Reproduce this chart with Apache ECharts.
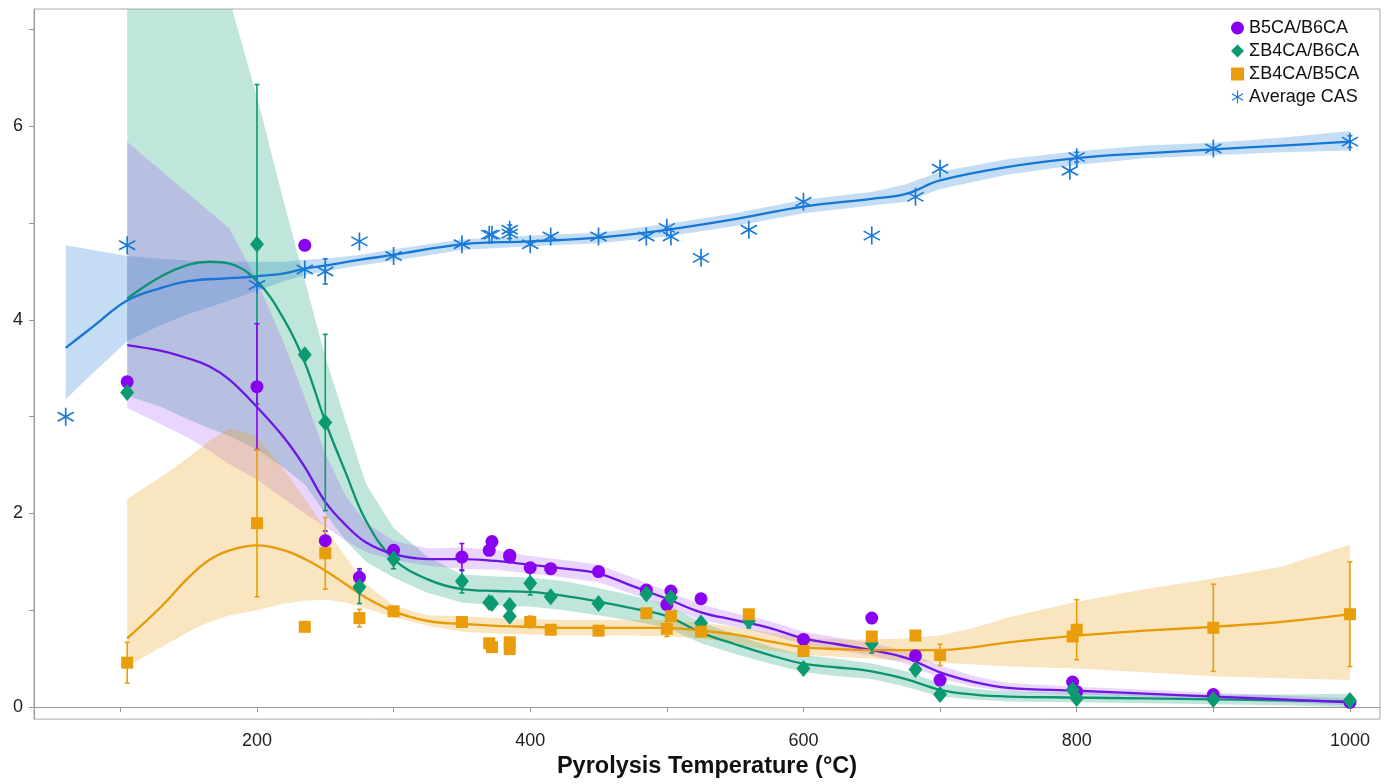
<!DOCTYPE html>
<html><head><meta charset="utf-8">
<script src="https://cdn.jsdelivr.net/npm/echarts@6/dist/echarts.min.js"></script>
<style>html,body{margin:0;padding:0;background:#fff}#c{width:1390px;height:784px}</style>
</head><body><div id="c"></div>
<script>
// ---- measured points (ratio series share temperatures) ----
const ratioT = [105,200,235,250,275,300,350,370,372,385,385,400,415,450,485,500,503,525,560,600,650,682,700,797,800,900,1000];
const b5b6 = [3.36,3.31,4.77,1.72,1.34,1.62,1.55,1.62,1.71,1.57,1.55,1.44,1.43,1.40,1.21,1.06,1.20,1.12,null,0.70,0.92,0.53,0.28,0.26,0.16,0.13,0.05];
const b4b6 = [3.25,4.78,3.64,2.94,1.24,1.53,1.30,1.08,1.07,1.05,0.94,1.28,1.14,1.07,1.17,null,1.13,0.87,0.89,0.40,0.66,0.39,0.13,0.18,0.09,0.08,0.07];
const b4b5 = [0.46,1.90,0.83,1.59,0.92,0.99,0.88,0.66,0.62,0.67,0.60,0.88,0.80,0.79,0.97,0.81,0.94,0.78,0.96,0.58,0.73,0.74,0.54,0.73,0.80,0.82,0.96];
const b5b6Err = [null,0.65,null,0.10,0.09,null,0.14,null,null,null,null,0.05,0.05,null,null,null,null,null,null,null,null,null,null,null,null,null,null];
const b4b6Err = [null,1.65,null,0.91,0.17,0.10,0.12,null,null,null,null,0.12,null,null,null,null,null,null,0.07,null,0.10,null,null,null,null,null,null];
const b4b5Err = [0.21,0.76,null,0.37,0.09,null,0.03,null,null,null,null,0.06,null,null,null,0.08,null,null,null,null,null,null,0.11,null,0.31,0.45,0.54];

const casT = [60,105,200,235,250,275,300,350,370,372,385,385,400,415,450,485,500,503,525,560,600,650,682,700,795,800,900,1000];
const casV = [3.00,4.77,4.36,4.52,4.50,4.81,4.66,4.78,4.88,4.88,4.93,4.89,4.78,4.86,4.86,4.86,4.95,4.86,4.64,4.93,5.22,4.87,5.27,5.56,5.54,5.68,5.77,5.84];
const casErr = [null,null,null,null,0.13,null,null,null,null,null,0.05,0.05,null,null,null,null,null,null,null,null,null,null,null,null,null,0.05,null,0.06];

// ---- fitted curves and confidence bands ----
const fitT = [105,130,150,165,180,200,220,235,250,265,280,300,325,350,375,400,425,450,475,500,525,550,575,600,625,650,675,700,725,750,800,850,900,950,1000];
const b5b6Fit = [3.74,3.68,3.60,3.52,3.38,3.10,2.78,2.48,2.12,1.88,1.70,1.58,1.53,1.53,1.51,1.47,1.43,1.38,1.25,1.12,0.98,0.90,0.82,0.71,0.65,0.59,0.51,0.36,0.26,0.20,0.17,0.14,0.11,0.08,0.05];
const b5b6Lo  = [3.09,2.92,2.78,2.65,2.51,2.35,2.15,2.00,1.86,1.72,1.60,1.52,1.46,1.43,1.42,1.38,1.34,1.29,1.17,1.04,0.90,0.83,0.75,0.65,0.59,0.53,0.45,0.30,0.21,0.16,0.13,0.11,0.08,0.05,0.02];
const b5b6Hi  = [5.84,5.54,5.30,5.12,4.94,4.40,3.75,3.20,2.62,2.18,1.90,1.72,1.64,1.65,1.62,1.56,1.52,1.47,1.34,1.20,1.06,0.97,0.89,0.78,0.72,0.66,0.58,0.43,0.32,0.25,0.21,0.18,0.15,0.12,0.09];
const b4b6Fit = [4.22,4.45,4.57,4.60,4.58,4.40,4.00,3.56,2.95,2.42,1.92,1.53,1.32,1.22,1.20,1.19,1.15,1.09,1.02,0.94,0.77,0.65,0.54,0.45,0.41,0.37,0.29,0.18,0.13,0.11,0.10,0.09,0.08,0.07,0.06];
const b4b6Lo  = [3.22,3.10,2.97,2.88,2.80,2.66,2.47,2.30,2.00,1.72,1.50,1.34,1.18,1.08,1.05,1.04,1.00,0.95,0.89,0.82,0.66,0.55,0.45,0.36,0.32,0.29,0.21,0.11,0.08,0.06,0.05,0.04,0.03,0.02,0.00];
const b4b6Hi  = [11.0,10.0,9.0,8.1,7.3,6.3,5.2,4.41,3.62,2.95,2.30,1.85,1.55,1.37,1.35,1.34,1.30,1.23,1.15,1.06,0.88,0.75,0.63,0.54,0.50,0.45,0.37,0.25,0.19,0.16,0.15,0.14,0.13,0.13,0.14];
const b4b5Fit = [0.71,1.04,1.34,1.52,1.62,1.67,1.62,1.53,1.41,1.27,1.13,0.99,0.89,0.86,0.84,0.83,0.82,0.82,0.82,0.82,0.79,0.75,0.68,0.62,0.60,0.59,0.59,0.59,0.62,0.67,0.74,0.79,0.83,0.88,0.96];
const b4b5Lo  = [0.42,0.62,0.78,0.88,0.95,1.00,1.07,1.10,1.11,1.08,1.02,0.93,0.84,0.78,0.76,0.75,0.74,0.74,0.74,0.73,0.71,0.66,0.59,0.54,0.52,0.50,0.48,0.46,0.44,0.42,0.40,0.36,0.32,0.30,0.28];
const b4b5Hi  = [2.15,2.38,2.58,2.75,2.88,2.80,2.45,2.15,1.85,1.55,1.27,1.05,0.95,0.94,0.92,0.91,0.90,0.90,0.90,0.90,0.87,0.83,0.77,0.72,0.70,0.70,0.71,0.74,0.82,0.93,1.09,1.22,1.33,1.45,1.68];

const casFitT = [60,80,105,130,150,180,200,220,235,250,275,300,350,400,450,500,550,600,650,675,700,750,800,850,900,950,1000];
const casFit = [3.71,3.93,4.20,4.33,4.40,4.43,4.45,4.48,4.53,4.56,4.62,4.67,4.78,4.81,4.85,4.93,5.04,5.17,5.25,5.30,5.44,5.58,5.67,5.72,5.76,5.80,5.84];
const casLo  = [3.18,3.45,3.78,3.95,4.06,4.20,4.30,4.40,4.46,4.50,4.56,4.61,4.72,4.76,4.79,4.86,4.97,5.10,5.18,5.22,5.35,5.50,5.60,5.67,5.70,5.73,5.75];
const casHi  = [4.77,4.72,4.66,4.63,4.61,4.60,4.60,4.60,4.62,4.63,4.67,4.73,4.83,4.87,4.90,4.99,5.10,5.24,5.32,5.40,5.53,5.66,5.74,5.80,5.83,5.88,5.95];

const xTicks = [100,200,300,400,500,600,700,800,900,1000];
const xLabels = [200,400,600,800,1000];
const yTicks = [0,1,2,3,4,5,6,7];
const yLabels = [0,2,4,6];

const names = ['B5CA/B6CA','ΣB4CA/B6CA','ΣB4CA/B5CA','Average CAS'];
const COL = {
  purple:'#8a00f0', purpleLine:'#6d16e6',
  green:'#0c9a72', greenLine:'#0c9470',
  orange:'#e99d0a', orangeLine:'#e69a06',
  blue:'#1a7ad8', blueLine:'#1776d4'
};
const asterisk = 'path://M45.5 0L54.5 0L54.5 100L45.5 100Z M4.45 28.9L8.95 21.1L95.55 71.1L91.05 78.9Z M4.45 71.1L91.05 21.1L95.55 28.9L8.95 78.9Z';
const FONT = 'Liberation Sans, Arial, sans-serif';

// band: one custom polygon, built from the lower/upper arrays through api.coord
function band(T, lo, hi, color, op) {
  const d = T.map((t,i)=>[t, lo[i], hi[i]]);
  return {type:'custom', data:d, encode:{x:0, y:[1,2]}, silent:true, z:1, clip:true,
    renderItem:function(params, api){
      if (params.dataIndex !== 0) return;
      const upper = [], lower = [];
      for (let i = 0; i < d.length; i++) {
        upper.push(api.coord([d[i][0], d[i][2]]));
        lower.push(api.coord([d[i][0], d[i][1]]));
      }
      const pts = upper.concat(lower.reverse());
      const cs = params.coordSys;
      return {type:'polygon', shape:{points:pts}, style:{fill:color, opacity:op},
        clipPath:{type:'rect', shape:{x:cs.x, y:cs.y, width:cs.width, height:cs.height}}};
    }};
}
function curve(T, v, color) {
  return {type:'line', data:T.map((t,i)=>[t,v[i]]), symbol:'none', smooth:0.4,
    lineStyle:{color:color, width:2.3}, silent:true, z:3};
}
function errbars(T, v, e, color) {
  const d = [];
  T.forEach((t,i)=>{ if (e[i]!=null && v[i]!=null) d.push([t, v[i]-e[i], v[i]+e[i]]); });
  return {type:'custom', data:d, encode:{x:0, y:[1,2]}, silent:true, z:4,
    renderItem:function(params, api){
      const x = api.value(0), lo = api.value(1), hi = api.value(2);
      const a = api.coord([x,lo]), b = api.coord([x,hi]);
      const c = 2.5, st = {stroke:color, lineWidth:1.6};
      return {type:'group', children:[
        {type:'line', shape:{x1:a[0],y1:a[1],x2:b[0],y2:b[1]}, style:st},
        {type:'line', shape:{x1:a[0]-c,y1:a[1],x2:a[0]+c,y2:a[1]}, style:st},
        {type:'line', shape:{x1:b[0]-c,y1:b[1],x2:b[0]+c,y2:b[1]}, style:st}
      ]};
    }};
}
function pts(T, v) { const d=[]; T.forEach((t,i)=>{ if (v[i]!=null) d.push([t,v[i]]); }); return d; }

const series = [
  band(casFitT, casLo, casHi, COL.blue, 0.26),
  band(fitT, b4b6Lo, b4b6Hi, COL.green, 0.26),
  band(fitT, b5b6Lo, b5b6Hi, '#9a40f5', 0.22),
  band(fitT, b4b5Lo, b4b5Hi, COL.orange, 0.26),
  curve(casFitT, casFit, COL.blueLine),
  curve(fitT, b4b6Fit, COL.greenLine),
  curve(fitT, b5b6Fit, COL.purpleLine),
  curve(fitT, b4b5Fit, COL.orangeLine),
  errbars(casT, casV, casErr, COL.blue),
  errbars(ratioT, b4b6, b4b6Err, COL.green),
  errbars(ratioT, b5b6, b5b6Err, COL.purple),
  errbars(ratioT, b4b5, b4b5Err, COL.orange),
  {type:'scatter', name:names[0], data:pts(ratioT,b5b6), symbol:'circle', symbolSize:13, itemStyle:{color:COL.purple, opacity:1}, z:5},
  {type:'scatter', name:names[1], data:pts(ratioT,b4b6), symbol:'diamond', symbolSize:[14,17], itemStyle:{color:COL.green, opacity:1}, z:5},
  {type:'scatter', name:names[2], data:pts(ratioT,b4b5), symbol:'rect', symbolSize:12, itemStyle:{color:COL.orange, opacity:1}, z:5},
  {type:'scatter', name:names[3], data:pts(casT,casV), symbol:asterisk, symbolSize:[17,18], itemStyle:{color:COL.blue, opacity:1}, z:5}
];

const chart = echarts.init(document.getElementById('c'), null, {renderer:'canvas'});
chart.setOption({
  backgroundColor:'#fff',
  animation:false,
  textStyle:{fontFamily:FONT},
  grid:{left:34, right:10, top:9, bottom:61, show:true, borderColor:'#aaaaaa', borderWidth:1, containLabel:false},
  legend:{
    orient:'vertical', left:1226, top:14, itemGap:5, itemWidth:13, itemHeight:13,
    textStyle:{fontSize:18, color:'#111', fontFamily:FONT},
    data:[
      {name:names[0], icon:'circle'},
      {name:names[1], icon:'diamond'},
      {name:names[2], icon:'rect'},
      {name:names[3], icon:asterisk}
    ],
    selectedMode:false
  },
  xAxis:{
    type:'value', min:36.8, max:1022,
    splitLine:{show:false},
    axisLine:{show:true, lineStyle:{color:'#999', width:1}},
    axisTick:{show:true, customValues:xTicks, length:5, inside:false, lineStyle:{color:'#999'}},
    axisLabel:{customValues:xLabels, fontSize:18, color:'#222', margin:13, formatter:function(v){return String(v);}},
    name:'Pyrolysis Temperature (°C)', nameLocation:'middle', nameGap:31,
    nameTextStyle:{fontSize:23.5, fontWeight:'bold', color:'#111', fontFamily:FONT}
  },
  yAxis:{
    type:'value', min:-0.123, max:7.21,
    splitLine:{show:false},
    axisLine:{show:true, lineStyle:{color:'#999', width:1}},
    axisTick:{show:true, customValues:yTicks, length:5, lineStyle:{color:'#999'}},
    axisLabel:{customValues:yLabels, fontSize:18, color:'#222', margin:11, formatter:function(v){return String(v);}}
  },
  series:series
});
</script>
</body></html>
